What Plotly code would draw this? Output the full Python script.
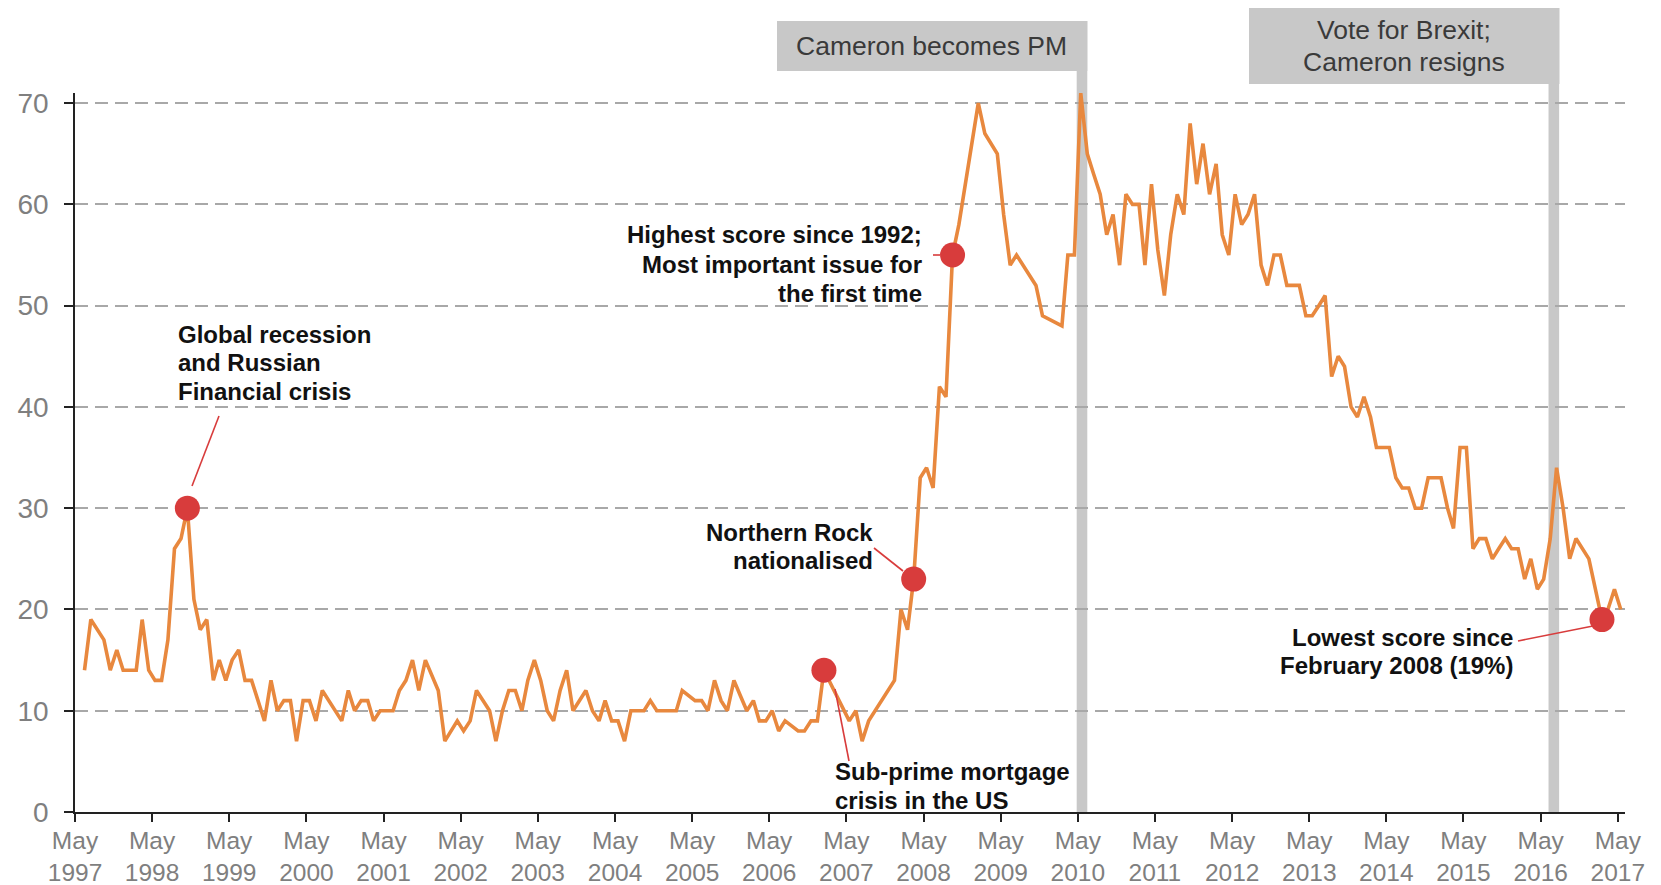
import plotly.graph_objects as go

# ---------------- data ----------------
dates = [
    "1997-06", "1997-07", "1997-09", "1997-10", "1997-11", "1997-12",
    "1998-01", "1998-02", "1998-03", "1998-04", "1998-05", "1998-06", "1998-07", "1998-08", "1998-09", "1998-10", "1998-11", "1998-12",
    "1999-01", "1999-02", "1999-03", "1999-04", "1999-05", "1999-06", "1999-07", "1999-08", "1999-10", "1999-11", "1999-12",
    "2000-01", "2000-02", "2000-03", "2000-04", "2000-05", "2000-06", "2000-07", "2000-10", "2000-11", "2000-12",
    "2001-01", "2001-02", "2001-03", "2001-04", "2001-05", "2001-06", "2001-07", "2001-08", "2001-09", "2001-10", "2001-11",
    "2002-01", "2002-02", "2002-03", "2002-04", "2002-05", "2002-06", "2002-07", "2002-08", "2002-09", "2002-10", "2002-11", "2002-12",
    "2003-01", "2003-02", "2003-03", "2003-04", "2003-05", "2003-06", "2003-07", "2003-08", "2003-09", "2003-10", "2003-11", "2003-12",
    "2004-01", "2004-02", "2004-03", "2004-04", "2004-05", "2004-06", "2004-07", "2004-08", "2004-09", "2004-10", "2004-11", "2004-12",
    "2005-01", "2005-02", "2005-03", "2005-04", "2005-05", "2005-06", "2005-07", "2005-08", "2005-09", "2005-10", "2005-11", "2005-12",
    "2006-01", "2006-02", "2006-03", "2006-04", "2006-05", "2006-06", "2006-07", "2006-08", "2006-09", "2006-10", "2006-11", "2006-12",
    "2007-01", "2007-05", "2007-06", "2007-07", "2007-08", "2007-12",
    "2008-01", "2008-02", "2008-03", "2008-04", "2008-05", "2008-06", "2008-07", "2008-08", "2008-09", "2008-10",
    "2009-01", "2009-02", "2009-04", "2009-05", "2009-06", "2009-07", "2009-10", "2009-11",
    "2010-02", "2010-03", "2010-04", "2010-05", "2010-06", "2010-07", "2010-08", "2010-09", "2010-10", "2010-11", "2010-12",
    "2011-01", "2011-02", "2011-03", "2011-04", "2011-05", "2011-06", "2011-07", "2011-08", "2011-09", "2011-10", "2011-11", "2011-12",
    "2012-01", "2012-02", "2012-03", "2012-04", "2012-05", "2012-06", "2012-07", "2012-08", "2012-09", "2012-10", "2012-11", "2012-12",
    "2013-01", "2013-02", "2013-03", "2013-04", "2013-05", "2013-06", "2013-07", "2013-08", "2013-09", "2013-10", "2013-11", "2013-12",
    "2014-01", "2014-02", "2014-03", "2014-04", "2014-05", "2014-06", "2014-07", "2014-08", "2014-09", "2014-10", "2014-11", "2014-12",
    "2015-01", "2015-02", "2015-03", "2015-04", "2015-05", "2015-06", "2015-07", "2015-08", "2015-09", "2015-10", "2015-11", "2015-12",
    "2016-01", "2016-02", "2016-03", "2016-04", "2016-05", "2016-06", "2016-07", "2016-08", "2016-09", "2016-10", "2016-11", "2016-12",
    "2017-02", "2017-03", "2017-04", "2017-05",
]
values = [
    14, 19, 17, 14, 16, 14,
    14, 14, 19, 14, 13, 13, 17, 26, 27, 30, 21, 18,
    19, 13, 15, 13, 15, 16, 13, 13, 9, 13, 10,
    11, 11, 7, 11, 11, 9, 12, 9, 12, 10,
    11, 11, 9, 10, 10, 10, 12, 13, 15, 12, 15,
    12, 7, 8, 9, 8, 9, 12, 11, 10, 7, 10, 12,
    12, 10, 13, 15, 13, 10, 9, 12, 14, 10, 11, 12,
    10, 9, 11, 9, 9, 7, 10, 10, 10, 11, 10, 10,
    10, 10, 12, 11.5, 11, 11, 10, 13, 11, 10, 13, 11.5,
    10, 11, 9, 9, 10, 8, 9, 8.5, 8, 8, 9, 9,
    14, 9, 10, 7, 9, 13,
    20, 18, 23, 33, 34, 32, 42, 41, 55, 58,
    70, 67, 65, 59, 54, 55, 52, 49,
    48, 55, 55, 71, 65, 63, 61, 57, 59, 54, 61,
    60, 60, 54, 62, 55.5, 51, 57, 61, 59, 68, 62, 66,
    61, 64, 57, 55, 61, 58, 59, 61, 54, 52, 55, 55,
    52, 52, 52, 49, 49, 50, 51, 43, 45, 44, 40, 39,
    41, 39, 36, 36, 36, 33, 32, 32, 30, 30, 33, 33,
    33, 30, 28, 36, 36, 26, 27, 27, 25, 26, 27, 26,
    26, 23, 25, 22, 23, 27, 34, 30, 25, 27, 26, 25,
    19, 20, 22, 20,
]

# highlighted points (red dots)
event_dates = ["1998-10", "2007-01", "2008-03", "2008-09", "2017-02"]
event_values = [30, 14, 23, 55, 19]

# vertical event bars
bar_dates = ["2010-05-21", "2016-07-02"]

tick_years = list(range(1997, 2018))
tick_vals = [f"{y}-05-01" for y in tick_years]
tick_text = [f"May<br>{y}" for y in tick_years]
y_ticks = [0, 10, 20, 30, 40, 50, 60, 70]

# ---------------- layout geometry helpers ----------------
# the page body adds an 8px offset, so the figure is 8px smaller each way
OFF = 8
W, H = 1661 - OFF, 885 - OFF
P_LEFT, P_RIGHT, P_TOP, P_BOTTOM = 75, 1625, 93, 812  # plot area in page pixels
ML, MR = P_LEFT - OFF, W - (P_RIGHT - OFF)
MT, MB = P_TOP - OFF, H - (P_BOTTOM - OFF)
PW, PH = P_RIGHT - P_LEFT, P_BOTTOM - P_TOP


def px_x(p):
    return (p - P_LEFT) / PW


def px_y(p):
    return (P_BOTTOM - p) / PH


ORANGE = "#E8883E"
RED = "#D83C3C"
GREY_BAR = "#C8C8C8"
FONT = "Liberation Sans, Arial, sans-serif"

fig = go.Figure()
fig.add_trace(go.Scatter(
    x=[d + "-15" for d in dates], y=values, mode="lines",
    line=dict(color=ORANGE, width=3.6), cliponaxis=False, hoverinfo="skip",
))
fig.add_trace(go.Scatter(
    x=[d + "-15" for d in event_dates], y=event_values, mode="markers",
    marker=dict(color=RED, size=25, line=dict(width=0)), cliponaxis=False, hoverinfo="skip",
))

shapes = []
# vertical grey bars
bar_tops = [px_y(71), px_y(84)]
for d, top in zip(bar_dates, bar_tops):
    shapes.append(dict(type="rect", xref="x", yref="paper", xsizemode="pixel", xanchor=d,
                       x0=-5.3, x1=5.3, y0=0, y1=top, fillcolor=GREY_BAR, line=dict(width=0), layer="below"))
# label boxes
shapes.append(dict(type="rect", xref="paper", yref="paper", x0=px_x(777), x1=px_x(1087.5),
                   y0=px_y(71), y1=px_y(21), fillcolor=GREY_BAR, line=dict(width=0), layer="below"))
shapes.append(dict(type="rect", xref="paper", yref="paper", x0=px_x(1249), x1=px_x(1559.5),
                   y0=px_y(84), y1=px_y(5), fillcolor=GREY_BAR, line=dict(width=0), layer="below"))
# pointer lines
pointers = [
    ((192, 486), (219, 416)),
    ((835, 689), (849, 761)),
    ((874, 548), (903, 571)),
    ((933, 255), (940, 255)),
    ((1518, 641), (1593, 626)),
]
for (a, b) in pointers:
    shapes.append(dict(type="line", xref="paper", yref="paper", x0=px_x(a[0]), y0=px_y(a[1]),
                       x1=px_x(b[0]), y1=px_y(b[1]), line=dict(color=RED, width=1.6)))

annotations = []


def add_lines(lines, x, ys, anchor, size=24, bold=True, color="#111111"):
    for t, yy in zip(lines, ys):
        annotations.append(dict(
            text=f"<b>{t}</b>" if bold else t, xref="paper", yref="paper",
            x=px_x(x), y=px_y(yy), xanchor=anchor, yanchor="middle", showarrow=False,
            font=dict(family=FONT, size=size, color=color), borderpad=0,
        ))


add_lines(["Global recession", "and Russian", "Financial crisis"], 177, [334, 362.5, 391], "left")
add_lines(["Highest score since 1992;", "Most important issue for", "the first time"], 923, [235, 264, 293], "right")
add_lines(["Northern Rock", "nationalised"], 874, [532, 560], "right")
add_lines(["Sub-prime mortgage", "crisis in the US"], 834, [771, 800], "left")
add_lines(["Lowest score since", "February 2008 (19%)"], 1514, [637, 665], "right")
add_lines(["Cameron becomes PM"], 932, [46], "center", size=26.5, bold=False, color="#3a3a3a")
add_lines(["Vote for Brexit;", "Cameron resigns"], 1404, [30, 62.5], "center", size=26.5, bold=False, color="#3a3a3a")

fig.update_layout(
    width=W, height=H, autosize=False,
    margin=dict(l=ML, r=MR, t=MT, b=MB, pad=0, autoexpand=False),
    paper_bgcolor="white", plot_bgcolor="white",
    showlegend=False,
    font=dict(family=FONT, color="#7f7f7f"),
    shapes=shapes, annotations=annotations,
    xaxis=dict(
        type="date", range=["1997-05-01", "2017-06-04"],
        tickmode="array", tickvals=tick_vals, ticktext=tick_text,
        showgrid=False, zeroline=False, automargin=False,
        showline=True, linecolor="#222222", linewidth=1.6,
        ticks="outside", ticklen=8, tickwidth=1.6, tickcolor="#222222",
        tickfont=dict(family=FONT, size=24.5, color="#7f7f7f"),
        ticklabelstandoff=-2,
    ),
    yaxis=dict(
        range=[0, 71.0], tickmode="array", tickvals=y_ticks,
        showgrid=True, gridcolor="#A8A8A8", gridwidth=1.8, griddash="13px,7px",
        zeroline=False, automargin=False,
        showline=True, linecolor="#222222", linewidth=1.6,
        ticks="outside", ticklen=9, tickwidth=1.6, tickcolor="#222222",
        tickfont=dict(family=FONT, size=28, color="#7f7f7f"),
        ticklabelstandoff=10,
    ),
)

fig.write_html("out.html")
